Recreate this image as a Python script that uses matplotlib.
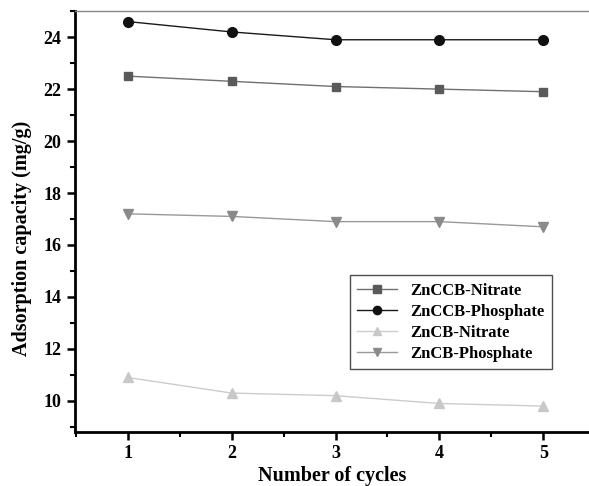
import matplotlib
matplotlib.use('Agg')
import matplotlib.pyplot as plt
from matplotlib.ticker import MultipleLocator

cycles = [1, 2, 3, 4, 5]
zn_ccb_nitrate = [22.5, 22.3, 22.1, 22.0, 21.9]
zn_ccb_phosphate = [24.6, 24.2, 23.9, 23.9, 23.9]
zn_cb_nitrate = [10.9, 10.3, 10.2, 9.9, 9.8]
zn_cb_phosphate = [17.2, 17.1, 16.9, 16.9, 16.7]
labels = ['ZnCCB-Nitrate', 'ZnCCB-Phosphate', 'ZnCB-Nitrate', 'ZnCB-Phosphate']

plt.rcParams['font.family'] = ['Liberation Serif', 'DejaVu Serif']
plt.rcParams['font.weight'] = 'bold'

fig = plt.figure(figsize=(5.89, 4.86), dpi=100)
ax = fig.add_axes([0.127, 0.111, 0.873, 0.866])

ax.plot(cycles, zn_ccb_nitrate, color='#707070', lw=1, marker='s', ms=6,
        mfc='#5a5a5a', mec='#5a5a5a', label=labels[0])
ax.plot(cycles, zn_ccb_phosphate, color='#1a1a1a', lw=1, marker='o', ms=7,
        mfc='#111111', mec='#111111', label=labels[1])
ax.plot(cycles, zn_cb_nitrate, color='#cccccc', lw=1, marker='^', ms=7.5,
        mfc='#c8c8c8', mec='#c8c8c8', label=labels[2])
ax.plot(cycles, zn_cb_phosphate, color='#999999', lw=1, marker='v', ms=7.5,
        mfc='#8a8a8a', mec='#8a8a8a', label=labels[3])

ax.set_xlim(0.49, 5.44)
ax.set_ylim(8.8, 25.0)
ax.set_xticks(cycles)
ax.yaxis.set_major_locator(MultipleLocator(2))
ax.yaxis.set_minor_locator(MultipleLocator(1))
ax.xaxis.set_minor_locator(MultipleLocator(0.5))
ax.tick_params(which='major', direction='out', length=6, width=1.8, labelsize=13)
ax.tick_params(which='minor', direction='out', length=3.5, width=1.5)

for s in ['left', 'bottom']:
    ax.spines[s].set_linewidth(2)
ax.spines['top'].set_color('#888888')
ax.spines['top'].set_linewidth(1)
ax.spines['right'].set_visible(False)

for t in ax.get_xticklabels() + ax.get_yticklabels():
    t.set_fontweight('bold')

ax.set_xlabel('Number of cycles', fontsize=14.5, fontweight='bold', labelpad=3)
ax.set_ylabel('Adsorption capacity (mg/g)', fontsize=14.5, fontweight='bold')
ax.yaxis.set_label_coords(-0.083, 0.46)

leg = ax.legend(loc='upper left', bbox_to_anchor=(0.535, 0.373), borderaxespad=0,
                frameon=True, fancybox=False, edgecolor='#222222',
                handlelength=2.4, borderpad=0.45, labelspacing=0.3,
                markerscale=0.85, prop={'weight': 'bold', 'size': 12})
leg.get_frame().set_linewidth(1)

fig.savefig('out.png', dpi=100)
